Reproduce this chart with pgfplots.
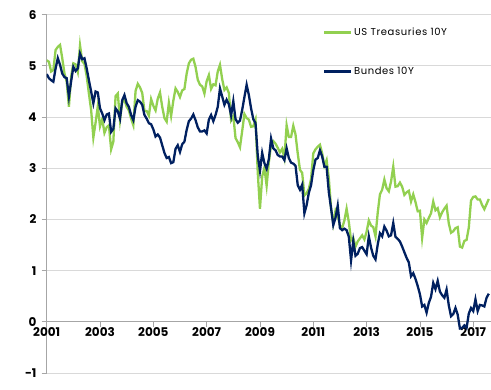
\documentclass[border=0pt]{standalone}
\usepackage{pgfplots}
\pgfplotsset{compat=1.18}
\usepackage{fontspec}
\setmainfont{Poppins}
\newfontfamily\legfont[LetterSpace=6]{Poppins}
\definecolor{ustgreen}{HTML}{92D050}
\definecolor{bundnavy}{HTML}{002060}
\definecolor{gridgray}{HTML}{D9D9D9}
\definecolor{axgray}{HTML}{A6A6A6}
\begin{document}
\begin{tikzpicture}
\begin{axis}[
 name=ax,
 scale only axis,
 width=444.3pt, height=358.3pt,
 xmin=0, xmax=200, ymin=-1, ymax=6,
 axis x line*=middle, axis y line*=left,
 hide obscured x ticks=false, hide obscured y ticks=false,
 xtick={0,24,48,72,96,120,144,168,192},
 xticklabels={2001,2003,2005,2007,2009,2011,2013,2015,2017},
 ytick={-1,0,1,2,3,4,5,6},
 yticklabels={-1,0,1,2,3,4,5,6},
 ymajorgrids, major grid style={gridgray, line width=1pt},
 tick align=outside, major tick length=5pt,
 tick style={axgray, line width=0.8pt},
 axis line style={axgray, line width=0.8pt},
 ticklabel style={font=\fontsize{12}{14}\selectfont\bfseries},
 xticklabel style={anchor=north, inner sep=1pt},
 yticklabel style={anchor=east, inner sep=5pt},
 legend style={at={(0.622,0.968)}, anchor=north west, draw=none, fill=none,
   inner sep=0pt, row sep=27pt, font=\legfont\fontsize{10}{12}\selectfont,
   nodes={inner sep=1.5pt}},
 legend cell align=left,
 legend image code/.code={\draw[#1] (0pt,0pt) -- (27pt,0pt);},
]
\addplot[ustgreen, line width=2.3pt] table[row sep=\\] {x y\\
0 5.11\\ 1 5.08\\ 2 4.89\\ 3 4.92\\ 4 5.31\\ 5 5.37\\ 6 5.41\\ 7 5.15\\ 8 4.85\\ 9 4.69\\
10 4.20\\ 11 4.79\\ 12 5.05\\ 13 5.03\\ 14 4.88\\ 15 5.40\\ 16 5.09\\ 17 5.04\\ 18 4.80\\ 19 4.46\\
20 4.14\\ 21 3.60\\ 22 3.89\\ 23 4.21\\ 24 3.82\\ 25 3.96\\ 26 3.69\\ 27 3.80\\ 28 3.84\\ 29 3.37\\
30 3.52\\ 31 4.41\\ 32 4.46\\ 33 3.94\\ 34 4.29\\ 35 4.33\\ 36 4.20\\ 37 4.13\\ 38 3.97\\ 39 3.84\\
40 4.51\\ 41 4.65\\ 42 4.58\\ 43 4.47\\ 44 4.12\\ 45 4.12\\ 46 4.03\\ 47 4.35\\ 48 4.22\\ 49 4.13\\
50 4.36\\ 51 4.48\\ 52 4.20\\ 53 3.98\\ 54 3.91\\ 55 4.28\\ 56 4.02\\ 57 4.32\\ 58 4.56\\ 59 4.49\\
60 4.39\\ 61 4.52\\ 62 4.55\\ 63 4.85\\ 64 5.05\\ 65 5.12\\ 66 5.14\\ 67 4.98\\ 68 4.73\\ 69 4.63\\
70 4.60\\ 71 4.46\\ 72 4.70\\ 73 4.82\\ 74 4.55\\ 75 4.64\\ 76 4.62\\ 77 4.89\\ 78 5.02\\ 79 4.74\\
80 4.53\\ 81 4.58\\ 82 4.47\\ 83 3.94\\ 84 4.02\\ 85 3.59\\ 86 3.51\\ 87 3.41\\ 88 3.73\\ 89 4.06\\
90 3.98\\ 91 3.95\\ 92 3.81\\ 93 3.82\\ 94 3.95\\ 95 2.92\\ 96 2.21\\ 97 2.84\\ 98 3.01\\ 99 2.66\\
100 3.12\\ 101 3.46\\ 102 3.53\\ 103 3.48\\ 104 3.40\\ 105 3.31\\ 106 3.38\\ 107 3.20\\ 108 3.84\\ 109 3.61\\
110 3.61\\ 111 3.83\\ 112 3.66\\ 113 3.29\\ 114 2.97\\ 115 2.91\\ 116 2.47\\ 117 2.51\\ 118 2.60\\ 119 2.79\\
120 3.29\\ 121 3.37\\ 122 3.42\\ 123 3.46\\ 124 3.29\\ 125 3.05\\ 126 3.16\\ 127 2.80\\ 128 2.22\\ 129 1.92\\
130 2.17\\ 131 2.07\\ 132 1.88\\ 133 1.83\\ 134 1.98\\ 135 2.21\\ 136 1.95\\ 137 1.59\\ 138 1.64\\ 139 1.47\\
140 1.57\\ 141 1.63\\ 142 1.69\\ 143 1.61\\ 144 1.76\\ 145 1.98\\ 146 1.88\\ 147 1.85\\ 148 1.67\\ 149 2.13\\
150 2.49\\ 151 2.58\\ 152 2.78\\ 153 2.61\\ 154 2.55\\ 155 2.74\\ 156 3.03\\ 157 2.64\\ 158 2.65\\ 159 2.72\\
160 2.64\\ 161 2.48\\ 162 2.53\\ 163 2.56\\ 164 2.35\\ 165 2.49\\ 166 2.34\\ 167 2.16\\ 168 2.17\\ 169 1.64\\
170 2.00\\ 171 1.93\\ 172 2.03\\ 173 2.12\\ 174 2.35\\ 175 2.18\\ 176 2.22\\ 177 2.04\\ 178 2.14\\ 179 2.21\\
180 2.27\\ 181 1.92\\ 182 1.74\\ 183 1.77\\ 184 1.83\\ 185 1.85\\ 186 1.47\\ 187 1.45\\ 188 1.58\\ 189 1.60\\
190 1.84\\ 191 2.37\\ 192 2.44\\ 193 2.45\\ 194 2.39\\ 195 2.39\\ 196 2.28\\ 197 2.20\\ 198 2.30\\ 199 2.40\\
};
\addlegendentry{US Treasuries 10Y}
\addplot[bundnavy, line width=2.3pt] table[row sep=\\] {x y\\
0 4.84\\ 1 4.76\\ 2 4.72\\ 3 4.69\\ 4 4.95\\ 5 5.15\\ 6 5.02\\ 7 4.85\\ 8 4.78\\ 9 4.76\\
10 4.40\\ 11 4.70\\ 12 4.98\\ 13 4.90\\ 14 4.95\\ 15 5.24\\ 16 5.13\\ 17 5.15\\ 18 4.95\\ 19 4.72\\
20 4.50\\ 21 4.27\\ 22 4.50\\ 23 4.48\\ 24 4.17\\ 25 4.07\\ 26 3.94\\ 27 4.05\\ 28 4.07\\ 29 3.71\\
30 3.77\\ 31 4.17\\ 32 4.11\\ 33 3.97\\ 34 4.33\\ 35 4.43\\ 36 4.27\\ 37 4.20\\ 38 4.04\\ 39 3.94\\
40 4.20\\ 41 4.33\\ 42 4.30\\ 43 4.24\\ 44 4.04\\ 45 3.97\\ 46 3.88\\ 47 3.86\\ 48 3.76\\ 49 3.62\\
50 3.66\\ 51 3.60\\ 52 3.45\\ 53 3.30\\ 54 3.20\\ 55 3.22\\ 56 3.10\\ 57 3.12\\ 58 3.38\\ 59 3.45\\
60 3.32\\ 61 3.47\\ 62 3.52\\ 63 3.75\\ 64 3.92\\ 65 3.97\\ 66 4.05\\ 67 3.94\\ 68 3.80\\ 69 3.72\\
70 3.72\\ 71 3.74\\ 72 3.68\\ 73 3.95\\ 74 4.04\\ 75 3.92\\ 76 4.04\\ 77 4.20\\ 78 4.56\\ 79 4.40\\
80 4.24\\ 81 4.34\\ 82 4.25\\ 83 4.03\\ 84 4.31\\ 85 3.96\\ 86 3.89\\ 87 3.93\\ 88 4.14\\ 89 4.39\\
90 4.63\\ 91 4.43\\ 92 4.17\\ 93 3.96\\ 94 3.88\\ 95 3.25\\ 96 2.95\\ 97 3.30\\ 98 3.10\\ 99 2.99\\
100 3.18\\ 101 3.58\\ 102 3.39\\ 103 3.35\\ 104 3.26\\ 105 3.23\\ 106 3.23\\ 107 3.16\\ 108 3.39\\ 109 3.20\\
110 3.11\\ 111 3.09\\ 112 3.05\\ 113 2.67\\ 114 2.58\\ 115 2.68\\ 116 2.12\\ 117 2.28\\ 118 2.52\\ 119 2.67\\
120 2.96\\ 121 3.17\\ 122 3.20\\ 123 3.35\\ 124 3.23\\ 125 3.03\\ 126 3.03\\ 127 2.53\\ 128 2.22\\ 129 1.89\\
130 2.03\\ 131 2.27\\ 132 1.83\\ 133 1.79\\ 134 1.82\\ 135 1.79\\ 136 1.66\\ 137 1.20\\ 138 1.58\\ 139 1.29\\
140 1.33\\ 141 1.44\\ 142 1.46\\ 143 1.39\\ 144 1.32\\ 145 1.67\\ 146 1.45\\ 147 1.29\\ 148 1.22\\ 149 1.51\\
150 1.73\\ 151 1.67\\ 152 1.86\\ 153 1.78\\ 154 1.67\\ 155 1.69\\ 156 1.93\\ 157 1.66\\ 158 1.62\\ 159 1.57\\
160 1.47\\ 161 1.36\\ 162 1.25\\ 163 1.16\\ 164 0.89\\ 165 0.95\\ 166 0.84\\ 167 0.70\\ 168 0.54\\ 169 0.30\\
170 0.33\\ 171 0.18\\ 172 0.37\\ 173 0.49\\ 174 0.76\\ 175 0.64\\ 176 0.80\\ 177 0.59\\ 178 0.52\\ 179 0.47\\
180 0.63\\ 181 0.32\\ 182 0.11\\ 183 0.15\\ 184 0.27\\ 185 0.14\\ 186 -0.13\\ 187 -0.12\\ 188 -0.07\\ 189 -0.12\\
190 0.16\\ 191 0.27\\ 192 0.21\\ 193 0.44\\ 194 0.21\\ 195 0.33\\ 196 0.32\\ 197 0.30\\ 198 0.47\\ 199 0.55\\
};
\addlegendentry{Bundes 10Y}
\end{axis}
\pgfresetboundingbox
\path[use as bounding box] ([xshift=-46.7pt,yshift=-16pt]ax.south west) rectangle ([yshift=14.7pt]ax.north east);
\end{tikzpicture}
\end{document}
